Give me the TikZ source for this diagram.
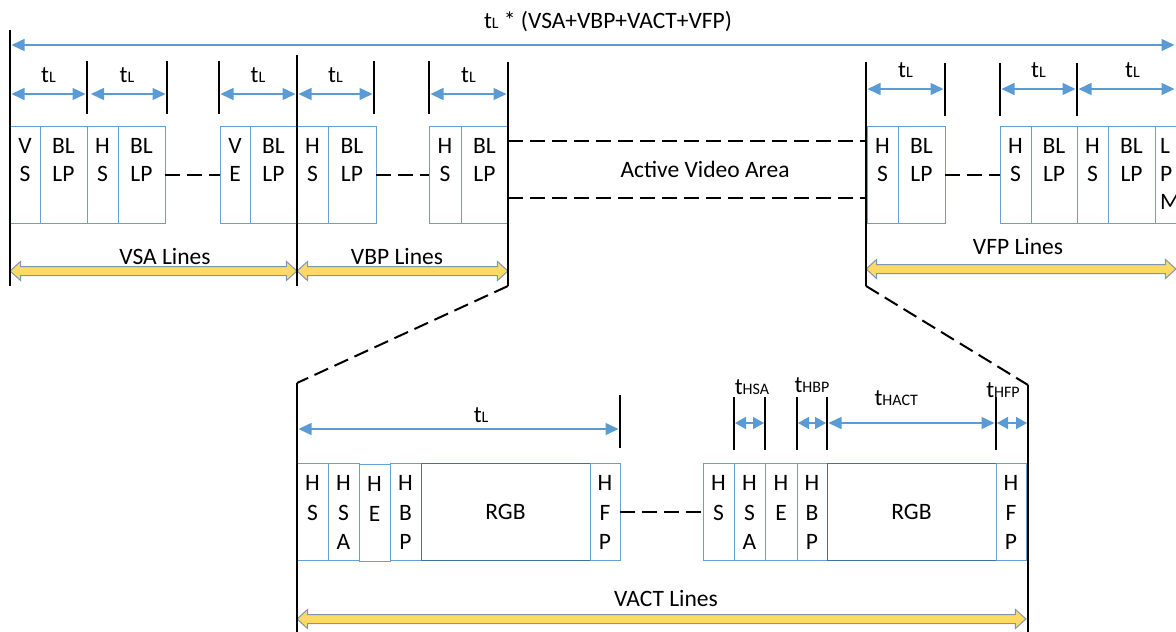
\documentclass[tikz,border=0pt]{standalone}
\usepackage{fontspec}
\setmainfont{Carlito}
\usetikzlibrary{arrows.meta, positioning, shapes.arrows}
\definecolor{dimblue}{RGB}{91,155,213}
\definecolor{cellblue}{RGB}{100,160,215}
\definecolor{rgbblue}{RGB}{65,113,156}
\definecolor{barfill}{RGB}{255,217,102}
\definecolor{baredge}{RGB}{125,150,180}
\newcommand{\tsig}[1]{t{\fontsize{16}{16}\selectfont #1}}

\begin{document}
\begin{tikzpicture}[x=1pt, y=-1pt,
    txt/.style={font=\fontsize{23.5}{28}\selectfont, inner sep=0pt},
    cell/.style={draw=cellblue, line width=1pt, minimum height=97pt, inner sep=0pt, outer sep=0pt},
    celltxt/.style={txt, align=center, anchor=north, yshift=-12.5pt},
    lowtxt/.style={celltxt, font=\fontsize{23.5}{29.5}\selectfont},
    rgbcell/.style={cell, draw=rgbblue, txt},
    guide/.style={line width=2.5pt},
    tickln/.style={line width=2.2pt},
    dashln/.style={line width=2pt, dash pattern=on 15pt off 7pt},
    dimarr/.style={draw=dimblue, line width=1.5pt, {Triangle[length=13pt,width=12pt]}-{Triangle[length=13pt,width=12pt]}, shorten <=1.5pt, shorten >=1.5pt},
    shortdim/.style={dimarr, {Triangle[length=11pt,width=12pt]}-{Triangle[length=11pt,width=12pt]}, shorten <=1pt, shorten >=1pt},
    dimlbl/.style={txt, above=11pt},
    fatarr/.style={double arrow, draw=baredge, fill=barfill, line width=1pt, inner xsep=0pt, inner ysep=4pt, double arrow head extend=5pt, double arrow tip angle=84}]
    \useasboundingbox (0,0) rectangle (1176,632);
    \clip (0,0) rectangle (1176,632);

    % vertical frame lines and tick marks
    \coordinate (l0) at (10,30);
    \coordinate (l4) at (297,55);
    \coordinate (l7) at (508,62);
    \coordinate (r0) at (866,62);
    \coordinate (b0) at (297,383);
    \coordinate (b7) at (1028,385);
    \coordinate (topfoot) at (0,286);
    \coordinate (botfoot) at (0,640);
    \foreach \n/\x in {l1/87, l2/167, l3/219, l5/374, l6/429}
        \coordinate (\n) at (\x,61);
    \foreach \n/\x in {r1/945, r2/1000, r3/1077}
        \coordinate (\n) at (\x,63);
    \coordinate (b1) at (620,395);
    \foreach \n/\x in {b2/734, b3/765, b4/797, b5/827, b6/996}
        \coordinate (\n) at (\x,397);
    \coordinate (redge) at (1176,0);

    % top row of lines: VSA and VBP
    \node[cell, minimum width=30pt, label={[celltxt]north:{V\\S}}] (vs) at (25,174.5) {};
    \node[cell, minimum width=47pt, label={[celltxt]north:{BL\\LP}}] (bl1) at (63.5,174.5) {};
    \node[cell, minimum width=31pt, label={[celltxt]north:{H\\S}}] (hs1) at (102.5,174.5) {};
    \node[cell, minimum width=47pt, label={[celltxt]north:{BL\\LP}}] (bl2) at (141.5,174.5) {};
    \node[cell, minimum width=30pt, label={[celltxt]north:{V\\E}}] (ve) at (235,174.5) {};
    \node[cell, minimum width=47pt, label={[celltxt]north:{BL\\LP}}] (bl3) at (273.5,174.5) {};
    \node[cell, minimum width=31pt, label={[celltxt]north:{H\\S}}] (hs2) at (312.5,174.5) {};
    \node[cell, minimum width=48pt, label={[celltxt]north:{BL\\LP}}] (bl4) at (352,174.5) {};
    \node[cell, minimum width=32pt, label={[celltxt]north:{H\\S}}] (hs3) at (445,174.5) {};
    \node[cell, minimum width=47pt, label={[celltxt]north:{BL\\LP}}] (bl5) at (484.5,174.5) {};

    % top row of lines: VFP
    \node[cell, minimum width=31pt, label={[celltxt]north:{H\\S}}] (hs4) at (882.5,174.5) {};
    \node[cell, minimum width=47pt, label={[celltxt]north:{BL\\LP}}] (bl6) at (921.5,174.5) {};
    \node[cell, minimum width=31pt, label={[celltxt]north:{H\\S}}] (hs5) at (1015.5,174.5) {};
    \node[cell, minimum width=46pt, label={[celltxt]north:{BL\\LP}}] (bl7) at (1054,174.5) {};
    \node[cell, minimum width=31pt, label={[celltxt]north:{H\\S}}] (hs6) at (1092.5,174.5) {};
    \node[cell, minimum width=47pt, label={[celltxt]north:{BL\\LP}}] (bl8) at (1131.5,174.5) {};
    \node[cell, minimum width=47pt, label={[celltxt, align=left, anchor=north west, xshift=5pt]north west:{L\\P\\M}}] (lpm) at (1178.5,174.5) {};

    % one active line, shown twice
    \node[cell, minimum width=31pt, label={[lowtxt]north:{H\\S}}] (hs7) at (312.5,511.5) {};
    \node[cell, minimum width=31pt, label={[lowtxt]north:{H\\S\\A}}] (hsa1) at (343.5,511.5) {};
    \node[cell, minimum width=31pt, label={[lowtxt]north:{H\\E}}] (he1) at (374.5,512.5) {};
    \node[cell, minimum width=31pt, label={[lowtxt]north:{H\\B\\P}}] (hbp1) at (405.5,511.5) {};
    \node[rgbcell, minimum width=169pt] (rgb1) at (505.5,511.5) {RGB};
    \node[cell, minimum width=30pt, label={[lowtxt]north:{H\\F\\P}}] (hfp1) at (605,511.5) {};
    \node[cell, minimum width=31pt, label={[lowtxt]north:{H\\S}}] (hs8) at (718.5,511.5) {};
    \node[cell, minimum width=31pt, label={[lowtxt]north:{H\\S\\A}}] (hsa2) at (749.5,511.5) {};
    \node[cell, minimum width=32pt, label={[lowtxt]north:{H\\E}}] (he2) at (781,511.5) {};
    \node[cell, minimum width=30pt, label={[lowtxt]north:{H\\B\\P}}] (hbp2) at (812,511.5) {};
    \node[rgbcell, minimum width=169pt] (rgb2) at (911.5,511.5) {RGB};
    \node[cell, minimum width=30pt, label={[lowtxt]north:{H\\F\\P}}] (hfp2) at (1011,511.5) {};

    % skipped lines
    \draw[dashln] (bl2.east) -- (ve.west);
    \draw[dashln] (bl4.east) -- (hs3.west);
    \draw[dashln] (bl6.east) -- (hs5.west);
    \draw[dashln] (hfp1.east) -- (hs8.west);

    \node[txt, minimum height=57pt] (avarea) at (705,169.5) {Active Video Area};
    \draw[dashln] (l7 |- avarea.north) -- (r0 |- avarea.north);
    \draw[dashln] (l7 |- avarea.south) -- (r0 |- avarea.south);

    % line counts
    \node[fatarr, minimum height=287pt] (vsabar) at (153.5,271) {};
    \node[fatarr, minimum height=211pt] (vbpbar) at (402.5,271) {};
    \node[fatarr, minimum height=310pt] (vfpbar) at (1021,269) {};
    \node[fatarr, minimum height=729pt] (vactbar) at (661.5,619) {};
    \node[txt] (vsalbl) at (165,256) {VSA Lines};
    \node[txt] (vbplbl) at (397,256) {VBP Lines};
    \node[txt] (vfplbl) at (1018,246) {VFP Lines};
    \node[txt] (vactlbl) at (666,598) {VACT Lines};

    \draw[guide] (l0) -- (l0 |- topfoot);
    \draw[guide] (l4) -- (l4 |- topfoot);
    \draw[guide] (l7) -- (l7 |- topfoot);
    \draw[guide] (r0) -- (r0 |- topfoot);
    \draw[guide] (b0) -- (b0 |- botfoot);
    \draw[guide] (b7) -- (b7 |- botfoot);
    \draw[dashln] (l7 |- topfoot) -- (b0);
    \draw[dashln] (r0 |- topfoot) -- (b7);
    \foreach \n in {l1, l2, l3, l5, l6, r1, r2, r3, b1, b2, b3, b4, b5, b6}
        \draw[tickln] (\n) -- ++(0,53);

    % timing
    \node[txt] (frame) at (608,22) {\tsig{L} * (VSA+VBP+VACT+VFP)};
    \coordinate (fulldim) at (0,45);
    \coordinate (ldim) at (0,94);
    \coordinate (rdim) at (0,89);
    \coordinate (bdim) at (0,429);
    \coordinate (sdim) at (0,423);
    \draw[dimarr] (l0 |- fulldim) -- (redge |- fulldim);
    \draw[dimarr] (l0 |- ldim) -- node[dimlbl] (tl1) {\tsig{L}} (l1 |- ldim);
    \draw[dimarr, shorten <=4pt] (l1 |- ldim) -- node[dimlbl] (tl2) {\tsig{L}} (l2 |- ldim);
    \draw[dimarr] (l3 |- ldim) -- node[dimlbl] (tl3) {\tsig{L}} (l4 |- ldim);
    \draw[dimarr] (l4 |- ldim) -- node[dimlbl] (tl4) {\tsig{L}} (l5 |- ldim);
    \draw[dimarr] (l6 |- ldim) -- node[dimlbl] (tl5) {\tsig{L}} (l7 |- ldim);
    \draw[dimarr] (r0 |- rdim) -- node[dimlbl] (tl6) {\tsig{L}} (r1 |- rdim);
    \draw[dimarr] (r2 |- rdim) -- node[dimlbl] (tl7) {\tsig{L}} (r3 |- rdim);
    \draw[dimarr] (r3 |- rdim) -- node[dimlbl, pos=.56] (tl8) {\tsig{L}} (redge |- rdim);
    \draw[dimarr] (b0 |- bdim) -- node[dimlbl, pos=.57, above=6pt] (tl9) {\tsig{L}} (b1 |- bdim);
    \draw[shortdim] (b2 |- sdim) -- node[dimlbl, above=28pt, xshift=2.5pt] (thsa) {\tsig{HSA}} (b3 |- sdim);
    \draw[shortdim] (b4 |- sdim) -- node[dimlbl, above=30pt] (thbp) {\tsig{HBP}} (b5 |- sdim);
    \draw[dimarr] (b5 |- sdim) -- node[dimlbl, pos=.41, above=17pt] (thact) {\tsig{HACT}} (b6 |- sdim);
    \draw[shortdim] (b6 |- sdim) -- node[dimlbl, above=25pt, xshift=-9pt] (thfp) {\tsig{HFP}} (b7 |- sdim);
\end{tikzpicture}
\end{document}
